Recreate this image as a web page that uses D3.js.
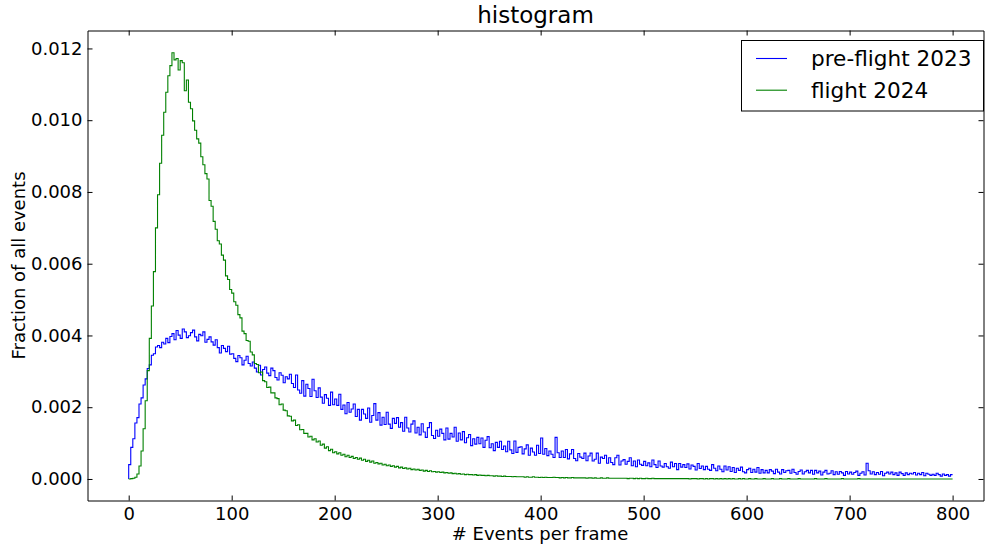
<!DOCTYPE html>
<html>
<head>
<meta charset="utf-8">
<script src="https://cdn.jsdelivr.net/npm/d3@7"></script>
<style>
  body { margin: 0; background: #fff; }
  text { font-family: "DejaVu Sans", sans-serif; fill: #000; }
</style>
</head>
<body>
<svg id="chart" width="985" height="546"></svg>
<script>
// Histogram bins: width 2 events, starting at 0
const binStart = 0;
const binWidth = 2;
// Bin heights are stored in units of 1e-5 (fraction of all events)
const valueUnit = 1e-5;

const preFlight2023 = [
  40, 88, 112, 156, 171, 209, 226, 262, 279, 308,
  318, 345, 349, 368, 372, 366, 381, 376, 392, 380,
  397, 405, 388, 414, 401, 392, 418, 410, 394, 399,
  408, 415, 396, 385, 403, 399, 410, 381, 389, 396,
  382, 373, 388, 366, 351, 372, 364, 355, 370, 348,
  349, 336, 327, 344, 338, 318, 331, 342, 322, 315,
  326, 309, 298, 317, 290, 305, 312, 295, 288, 309,
  302, 283, 276, 296, 289, 268, 285, 279, 292, 266,
  255, 290, 248, 239, 274, 231, 264, 252, 230, 278,
  246, 227, 254, 228, 211, 235, 225, 205, 242, 207,
  223, 205, 236, 194, 206, 182, 213, 186, 195, 209,
  174, 194, 164, 194, 181, 169, 198, 158, 177, 210,
  164, 185, 150, 172, 152, 186, 153, 141, 169, 155,
  171, 144, 157, 133, 172, 142, 131, 153, 162, 128,
  144, 123, 154, 131, 116, 143, 157, 121, 113, 136,
  119, 139, 127, 109, 142, 111, 127, 117, 144, 105,
  128, 109, 132, 101, 115, 124, 93, 112, 97, 116,
  98, 114, 88, 108, 118, 87, 98, 79, 102, 88,
  105, 82, 92, 76, 105, 81, 71, 106, 74, 88,
  90, 70, 84, 95, 66, 86, 75, 66, 94, 71,
  114, 69, 85, 65, 78, 69, 60, 116, 73, 60,
  78, 60, 82, 56, 70, 82, 57, 51, 71, 61,
  57, 72, 51, 64, 72, 50, 55, 72, 44, 61,
  57, 66, 44, 59, 46, 40, 59, 66, 39, 50,
  54, 41, 49, 59, 37, 50, 34, 53, 41, 38,
  49, 37, 45, 34, 53, 40, 32, 50, 36, 33,
  43, 34, 30, 47, 34, 43, 26, 43, 33, 40,
  32, 42, 28, 39, 35, 25, 43, 29, 36, 26,
  35, 27, 24, 40, 30, 23, 36, 27, 20, 36,
  25, 34, 21, 32, 18, 30, 24, 33, 20, 17,
  26, 30, 18, 27, 19, 32, 16, 26, 17, 24,
  17, 26, 22, 15, 27, 19, 14, 26, 18, 23,
  24, 16, 27, 18, 13, 21, 25, 14, 20, 24,
  17, 24, 13, 24, 17, 22, 11, 19, 24, 14,
  16, 23, 12, 20, 13, 21, 17, 10, 21, 14,
  19, 13, 18, 22, 10, 16, 20, 11, 44, 23,
  14, 20, 12, 18, 13, 21, 9, 16, 19, 14,
  19, 12, 17, 10, 19, 15, 10, 17, 12, 16,
  14, 18, 11, 16, 12, 18, 9, 16, 13, 10,
  13, 10, 16, 12, 8, 14, 10, 12, 8, 12
];

const flight2024 = [
  0, 1, 2, 5, 14, 36, 78, 140, 218, 302,
  392, 482, 578, 700, 792, 880, 958, 1022, 1078, 1124,
  1152, 1188, 1168, 1172, 1140, 1166, 1160, 1082, 1112, 1050,
  1032, 998, 972, 948, 936, 898, 876, 851, 836, 776,
  760, 718, 696, 664, 655, 624, 610, 566, 556, 528,
  518, 494, 484, 458, 449, 412, 405, 386, 384, 354,
  346, 322, 319, 296, 298, 274, 271, 255, 256, 240,
  240, 226, 224, 207, 209, 192, 190, 176, 175, 162,
  164, 149, 151, 137, 138, 127, 127, 117, 119, 109,
  112, 103, 106, 94, 97, 86, 90, 79, 83, 73,
  76, 70, 73, 66, 69, 62, 66, 60, 63, 57,
  60, 55, 58, 52, 55, 49, 52, 47, 50, 44,
  46, 42, 44, 39, 41, 37, 39, 35, 37, 33,
  35, 31, 33, 29, 31, 28, 30, 26, 28, 25,
  27, 24, 25, 22, 24, 21, 23, 20, 21, 19,
  20, 18, 19, 17, 18, 16, 17, 15, 16, 14,
  15, 13, 14, 12, 13, 12, 12, 11, 12, 10,
  11, 10, 10, 9, 10, 9, 9, 8, 9, 8,
  8, 7, 8, 7, 7, 7, 6, 7, 6, 6,
  6, 6, 5, 6, 5, 5, 6, 5, 5, 4,
  5, 4, 5, 4, 4, 4, 5, 4, 4, 3,
  4, 3, 4, 3, 3, 4, 3, 3, 3, 3,
  3, 3, 2, 3, 3, 2, 3, 2, 2, 3,
  2, 2, 3, 2, 2, 2, 2, 2, 2, 2,
  2, 2, 1, 2, 2, 1, 2, 1, 2, 1,
  1, 2, 1, 1, 2, 1, 1, 1, 1, 1,
  1, 1, 1, 1, 1, 1, 1, 1, 1, 1,
  1, 1, 0, 1, 1, 1, 0, 1, 1, 0,
  1, 0, 1, 1, 0, 1, 0, 1, 0, 1,
  0, 1, 0, 1, 0, 0, 1, 0, 1, 0,
  0, 1, 0, 0, 1, 0, 0, 0, 1, 0,
  0, 0, 1, 0, 0, 0, 1, 0, 0, 0,
  1, 0, 0, 0, 0, 1, 0, 0, 0, 0,
  0, 0, 0, 1, 0, 0, 0, 0, 1, 0,
  0, 0, 0, 0, 0, 0, 1, 0, 0, 0,
  0, 0, 0, 0, 1, 0, 0, 0, 0, 0,
  0, 0, 0, 0, 0, 0, 0, 0, 0, 0,
  0, 0, 0, 0, 0, 0, 0, 0, 0, 0,
  0, 0, 0, 0, 0, 0, 0, 0, 0, 0,
  0, 0, 0, 0, 0, 0, 0, 0, 0, 0
];

const seriesNames = ["pre-flight 2023", "flight 2024"];
const seriesColors = ["#0000ff", "#008000"];
const xTicks = [0, 100, 200, 300, 400, 500, 600, 700, 800];
const yTicks = [0.000, 0.002, 0.004, 0.006, 0.008, 0.010, 0.012];
const xDomain = [-40, 830];
const yDomain = [-0.0006, 0.0125];
const titleText = "histogram";
const xLabelText = "# Events per frame";
const yLabelText = "Fraction of all events";

const svg = d3.select("#chart");
const plot = { left: 87.5, right: 983.5, top: 30.5, bottom: 500.5 };

const x = d3.scaleLinear().domain(xDomain).range([plot.left, plot.right]);
const y = d3.scaleLinear().domain(yDomain).range([plot.bottom, plot.top]);

// Step outline for one histogram series
function stepPoints(values) {
  const pts = [[binStart, 0]];
  values.forEach((v, i) => pts.push([binStart + i * binWidth, v * valueUnit]));
  pts.push([binStart + values.length * binWidth, values[values.length - 1] * valueUnit]);
  return pts;
}
const line = d3.line()
  .x(d => x(d[0]))
  .y(d => y(d[1]))
  .curve(d3.curveStepAfter);

const series = [preFlight2023, flight2024];
series.forEach((vals, i) => {
  svg.append("path")
    .attr("d", line(stepPoints(vals)))
    .attr("fill", "none")
    .attr("stroke", seriesColors[i])
    .attr("stroke-width", 1.1)
    .attr("stroke-linejoin", "miter");
});

// Axes: ticks point inward on all four sides
const tickLen = 5;
const fontSize = "18px";
const gB = svg.append("g").attr("transform", `translate(0,${plot.bottom})`)
  .call(d3.axisBottom(x).tickValues(xTicks).tickFormat(d3.format("d"))
    .tickSizeInner(-tickLen).tickSizeOuter(0).tickPadding(7));
const gL = svg.append("g").attr("transform", `translate(${plot.left},0)`)
  .call(d3.axisLeft(y).tickValues(yTicks).tickFormat(d3.format(".3f"))
    .tickSizeInner(-tickLen).tickSizeOuter(0).tickPadding(5));
const gT = svg.append("g").attr("transform", `translate(0,${plot.top})`)
  .call(d3.axisTop(x).tickValues(xTicks).tickFormat("")
    .tickSizeInner(-tickLen).tickSizeOuter(0));
const gR = svg.append("g").attr("transform", `translate(${plot.right},0)`)
  .call(d3.axisRight(y).tickValues(yTicks).tickFormat("")
    .tickSizeInner(-tickLen).tickSizeOuter(0));

[gB, gL, gT, gR].forEach(g => {
  g.selectAll("path.domain").attr("stroke", "#000").attr("stroke-width", 1);
  g.selectAll(".tick line").attr("stroke", "#000").attr("stroke-width", 1);
  g.selectAll(".tick text")
    .style("font-family", '"DejaVu Sans", sans-serif')
    .style("font-size", fontSize)
    .attr("fill", "#000");
});

// Title and axis labels
svg.append("text")
  .attr("x", (plot.left + plot.right) / 2)
  .attr("y", 23)
  .attr("text-anchor", "middle")
  .style("font-size", "23px")
  .text(titleText);

svg.append("text")
  .attr("x", 540)
  .attr("y", 540)
  .attr("text-anchor", "middle")
  .style("font-size", fontSize)
  .text(xLabelText);

svg.append("text")
  .attr("transform", `translate(25,${(plot.top + plot.bottom) / 2}) rotate(-90)`)
  .attr("text-anchor", "middle")
  .style("font-size", fontSize)
  .text(yLabelText);

// Legend
const legend = svg.append("g");
legend.append("rect")
  .attr("x", 741.5).attr("y", 40.5)
  .attr("width", 242).attr("height", 70.5)
  .attr("fill", "#fff").attr("stroke", "#000").attr("stroke-width", 1);
seriesNames.forEach((name, i) => {
  const cy = 58.5 + i * 31.7;
  legend.append("line")
    .attr("x1", 756).attr("x2", 787)
    .attr("y1", cy).attr("y2", cy)
    .attr("stroke", seriesColors[i]).attr("stroke-width", 1.1);
  legend.append("text")
    .attr("x", 811).attr("y", cy + 7.8)
    .style("font-size", "21.6px")
    .text(name);
});
</script>
</body>
</html>
